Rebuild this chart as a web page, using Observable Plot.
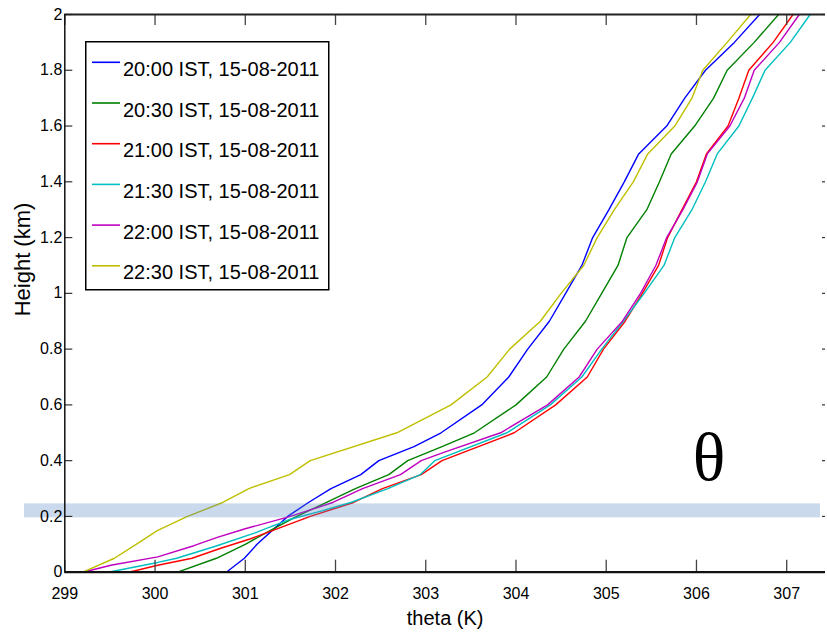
<!DOCTYPE html>
<html><head><meta charset="utf-8">
<script src="https://cdn.jsdelivr.net/npm/d3@7"></script>
<script src="https://cdn.jsdelivr.net/npm/@observablehq/plot@0.6"></script>
<style>
body{margin:0;background:#fff}
#wrap{position:relative;width:827px;height:637px;background:#fff;font-family:"Liberation Sans",Arial,sans-serif}
#legend{position:absolute;left:85px;top:41px}
</style></head><body><div id="wrap"></div>
<script>
const seriesNames = ["20:00 IST, 15-08-2011","20:30 IST, 15-08-2011","21:00 IST, 15-08-2011","21:30 IST, 15-08-2011","22:00 IST, 15-08-2011","22:30 IST, 15-08-2011"];
const seriesColors = ["#0000ff","#008000","#ff0000","#00bfbf","#bf00bf","#bfbf00"];

const h2000 = [0,0.05,0.1,0.15,0.2,0.25,0.3,0.35,0.4,0.45,0.5,0.6,0.7,0.8,0.9,1.0,1.1,1.2,1.3,1.4,1.5,1.6,1.7,1.8,1.9,2.0];
const t2000 = [300.79,300.99,301.13,301.3,301.47,301.7,301.95,302.28,302.48,302.87,303.17,303.62,303.92,304.13,304.37,304.55,304.73,304.85,305.03,305.2,305.36,305.67,305.87,306.1,306.42,306.7];

const h2030 = [0,0.05,0.1,0.15,0.2,0.25,0.3,0.35,0.4,0.45,0.5,0.6,0.7,0.8,0.9,1.0,1.1,1.2,1.3,1.4,1.5,1.6,1.7,1.8,1.9,2.0];
const t2030 = [300.25,300.68,301.0,301.28,301.57,301.9,302.22,302.59,302.8,303.18,303.54,304.0,304.34,304.53,304.77,304.95,305.13,305.23,305.45,305.59,305.72,305.98,306.19,306.34,306.64,306.91];

const h2100 = [0,0.025,0.05,0.085,0.12,0.17,0.2,0.25,0.3,0.35,0.4,0.5,0.6,0.7,0.8,0.9,1.0,1.1,1.2,1.3,1.4,1.5,1.6,1.7,1.8,1.9,2.0];
const t2100 = [299.71,300.03,300.41,300.72,301.06,301.47,301.72,302.2,302.52,302.95,303.18,303.98,304.44,304.79,304.97,305.21,305.4,305.58,305.68,305.84,306.0,306.11,306.35,306.47,306.58,306.85,307.07];

const h2130 = [0,0.035,0.05,0.093,0.14,0.19,0.22,0.25,0.3,0.35,0.4,0.5,0.6,0.7,0.8,0.9,1.0,1.1,1.2,1.3,1.4,1.5,1.6,1.7,1.8,1.9,2.0];
const t2130 = [299.48,300.03,300.24,300.67,301.1,301.5,301.85,302.17,302.58,302.94,303.1,303.9,304.38,304.73,304.95,305.19,305.42,305.64,305.76,305.95,306.1,306.23,306.47,306.62,306.76,307.04,307.26];

const h2200 = [0,0.025,0.055,0.095,0.125,0.155,0.2,0.25,0.3,0.35,0.4,0.43,0.5,0.6,0.7,0.8,0.9,1.0,1.1,1.2,1.3,1.4,1.5,1.6,1.7,1.8,1.9,2.0];
const t2200 = [299.2,299.51,300.03,300.43,300.69,300.99,301.5,301.97,302.3,302.72,302.95,303.2,303.83,304.35,304.7,304.9,305.18,305.38,305.55,305.67,305.85,306.01,306.12,306.37,306.53,306.64,306.92,307.14];

const h2230 = [0,0.05,0.1,0.15,0.2,0.25,0.3,0.35,0.4,0.5,0.6,0.7,0.8,0.9,1.0,1.1,1.2,1.3,1.4,1.5,1.6,1.7,1.8,1.9,2.0];
const t2230 = [299.2,299.55,299.79,300.03,300.36,300.75,301.04,301.49,301.72,302.68,303.28,303.68,303.93,304.27,304.5,304.75,304.9,305.09,305.3,305.46,305.76,305.95,306.07,306.34,306.6];

const xTicks = [299,300,301,302,303,304,305,306,307];
const yTicks = [0,0.2,0.4,0.6,0.8,1,1.2,1.4,1.6,1.8,2];
const xDomain = [299, 307.43];
const yDomain = [0, 2];
const bandLow = 0.195, bandHigh = 0.245;
const annotLabel = ["θ"], annotTheta = [306.14], annotHeight = [0.41];
const xLabel = "theta (K)", yLabel = "Height (km)";

const heights = [h2000,h2030,h2100,h2130,h2200,h2230];
const thetas = [t2000,t2030,t2100,t2130,t2200,t2230];
const rows = [];
seriesNames.forEach((s,i)=>heights[i].forEach((h,j)=>rows.push({series:s,height:h,theta:thetas[i][j]})));
const annot = annotLabel.map((l,i)=>({label:l,theta:annotTheta[i],height:annotHeight[i]}));

const mL=64.3, mR=2, mT=14, mB=65.3;
const frameW = 827-mL-mR, frameH = 637-mT-mB;
const font = "'Liberation Sans', Arial, sans-serif";

const chart = Plot.plot({
  width:827, height:637, marginLeft:mL, marginRight:mR, marginTop:mT, marginBottom:mB,
  style:{fontFamily:font, fontSize:"16px", color:"black", background:"white", overflow:"visible"},
  x:{domain:xDomain},
  y:{domain:yDomain},
  color:{domain:seriesNames, range:seriesColors},
  marks:[
    Plot.line(rows,{x:"theta",y:"height",z:"series",stroke:"series",strokeWidth:1.4}),
    Plot.rect([0],{x1:xDomain[0],x2:xDomain[1],y1:bandLow,y2:bandHigh,insetLeft:-40.3,insetRight:5,fill:"#4f81bd",fillOpacity:0.3}),
    Plot.axisX({ticks:xTicks,tickSize:0,tickPadding:15,label:null,fontSize:16}),
    Plot.axisY({ticks:yTicks,tickSize:0,tickPadding:2.5,label:null,tickFormat:d3.format("~g"),fontSize:16}),
    Plot.ruleX(xTicks,{insetTop:frameH-12,stroke:"#444",strokeWidth:1.3}),
    Plot.ruleX(xTicks,{insetBottom:frameH-11,stroke:"#444",strokeWidth:1.3}),
    Plot.ruleY(yTicks,{insetRight:frameW-8,stroke:"#333",strokeWidth:1.2}),
    Plot.ruleY(yTicks,{insetLeft:frameW-3,stroke:"#333",strokeWidth:1.2}),
    Plot.ruleY([yDomain[0]],{stroke:"#111",strokeWidth:2.2}),
    Plot.ruleY([yDomain[1]],{stroke:"#222",strokeWidth:1.8}),
    Plot.ruleX([xDomain[0]],{stroke:"#111",strokeWidth:1.5}),
    Plot.text([xLabel],{text:d=>d,frameAnchor:"bottom",dy:53,fontSize:20}),
    Plot.text([yLabel],{text:d=>d,frameAnchor:"left",dx:-42,dy:23,rotate:-90,fontSize:22}),
    Plot.text(annot,{x:"theta",y:"height",text:"label",fontSize:68,fontFamily:"'Liberation Serif','Times New Roman',serif",lineAnchor:"middle"})
  ]
});
const wrap = document.getElementById("wrap");
wrap.appendChild(chart);

// legend
const lg = d3.select(wrap).append("svg").attr("id","legend").attr("width",246).attr("height",251);
lg.append("rect").attr("x",0.75).attr("y",0.75).attr("width",243).attr("height",248)
  .attr("fill","white").attr("stroke","black").attr("stroke-width",1.5);
seriesNames.forEach((s,i)=>{
  const y = 21.3 + i*40.7;
  lg.append("line").attr("x1",7).attr("x2",35).attr("y1",y).attr("y2",y)
    .attr("stroke",seriesColors[i]).attr("stroke-width",1.6);
  lg.append("text").attr("x",38).attr("y",y+13.5).attr("font-family",font)
    .attr("font-size",20).attr("fill","black").text(s);
});
</script></body></html>
